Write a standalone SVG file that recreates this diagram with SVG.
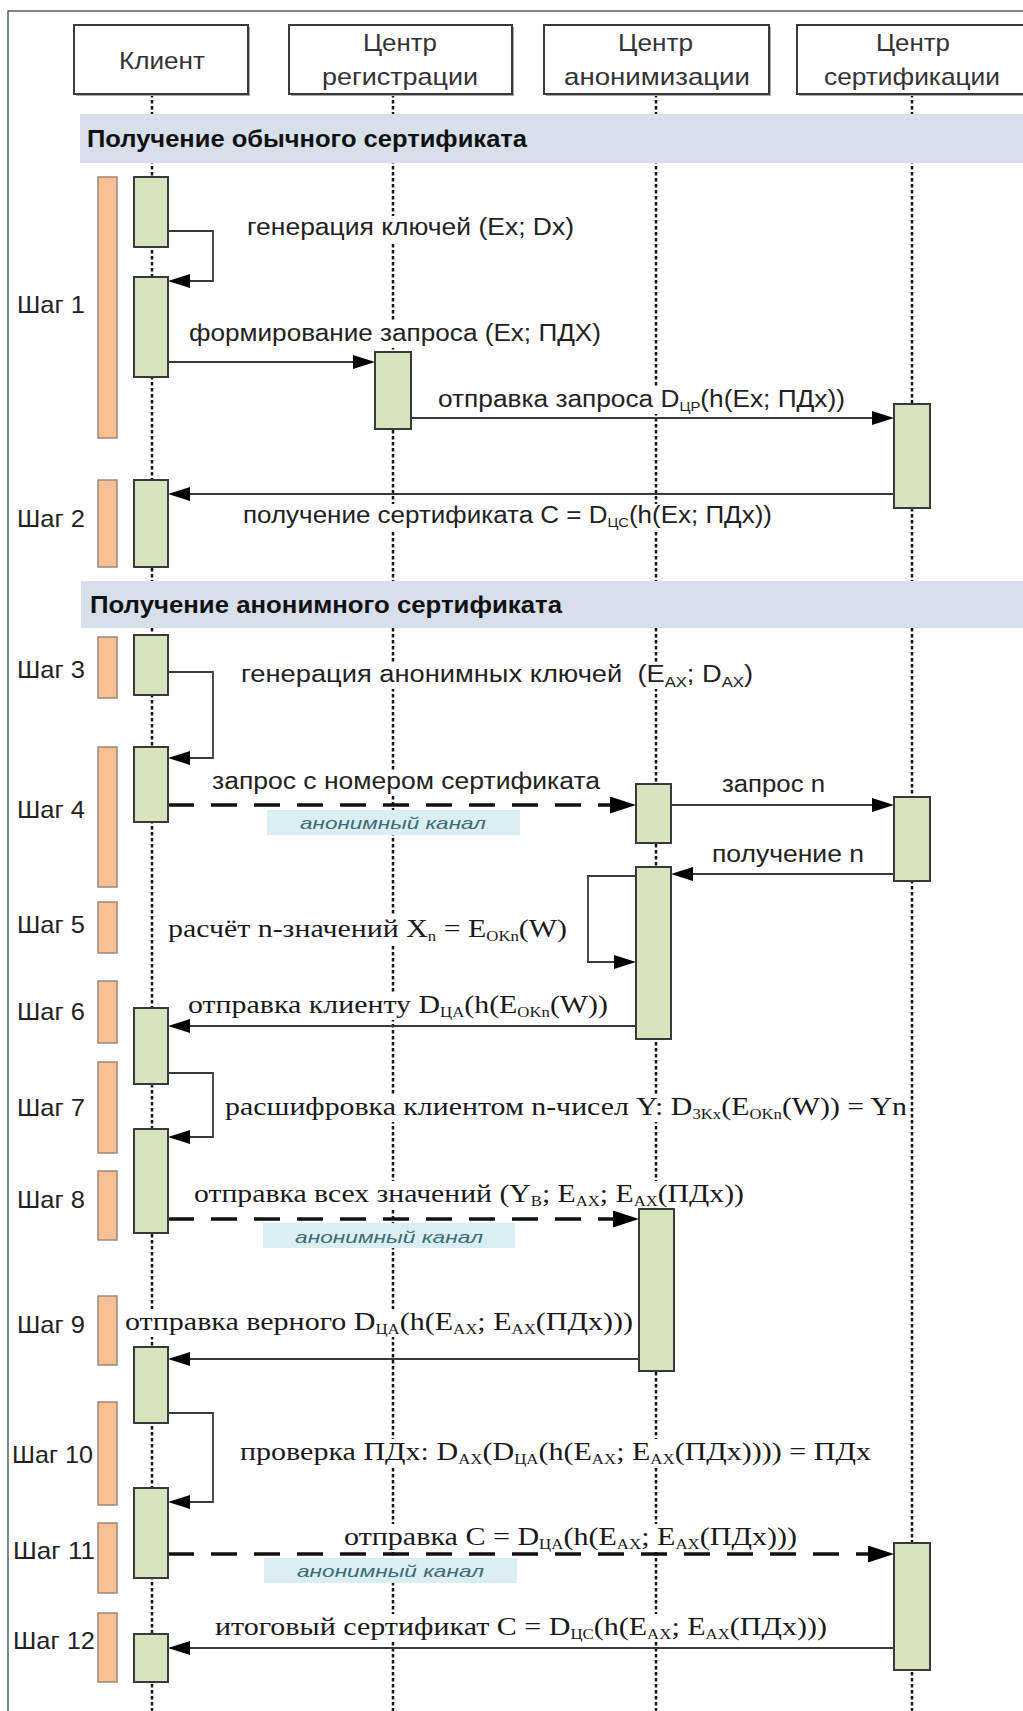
<svg xmlns="http://www.w3.org/2000/svg" width="1023" height="1711" viewBox="0 0 1023 1711">
<style>
.hdr{font-family:"Liberation Sans",Arial,sans-serif;font-size:24px;fill:#333}
.bt{font-family:"Liberation Sans",Arial,sans-serif;font-size:23px;font-weight:bold;fill:#111}
.lbl{font-family:"Liberation Sans",Arial,sans-serif;font-size:23px;fill:#222}
.ser{font-family:"Liberation Serif","Times New Roman",serif;font-size:25px;fill:#1a1a1a}
.step{font-family:"Liberation Sans",Arial,sans-serif;font-size:24px;fill:#222}
.anon{font-family:"Liberation Sans",Arial,sans-serif;font-size:17px;font-style:italic;fill:#3e6b75}
.sb{font-size:14px}
.sbs{font-size:13px}
.box{fill:#fff;stroke:#3a3a3a;stroke-width:2}
.shd{fill:#a8a8a8}
.life{stroke:#151515;stroke-width:2.5;stroke-dasharray:3.5 2.5;fill:none}
.band{fill:#d6dfea}
.act{fill:#d7e4bd;stroke:#3a3a3a;stroke-width:2}
.stp{fill:#f7bf94;stroke:#9a8878;stroke-width:1.5}
.msg{stroke:#3a3a3a;stroke-width:2.2;fill:none;marker-end:url(#ah)}
.dsh{stroke:#111;stroke-width:3.5;stroke-dasharray:26 17;fill:none;marker-end:url(#ahd)}
.self{stroke:#3a3a3a;stroke-width:1.8;fill:none;marker-end:url(#ah)}
.tbg{fill:#fff}
.anbox{fill:#daeef3}
</style>
<defs>
<marker id="ah" viewBox="0 0 22 14" refX="8" refY="7" markerWidth="22" markerHeight="14" markerUnits="userSpaceOnUse" orient="auto"><path d="M0,0 L22,7 L0,14 z" fill="#000"/></marker>
<marker id="ahd" viewBox="0 0 26 17" refX="10" refY="8.5" markerWidth="26" markerHeight="17" markerUnits="userSpaceOnUse" orient="auto"><path d="M0,0 L26,8.5 L0,17 z" fill="#000"/></marker>
</defs>
<rect x="0" y="0" width="1023" height="1711" fill="#fff"/>
<g id="frame" fill="none" stroke="#51655a" stroke-width="1.5">
<path d="M8,1711 V11 H1023"/>
</g>
<g id="lifelines">
<line class="life" x1="152" y1="94" x2="152" y2="1711"/>
<line class="life" x1="393" y1="94" x2="393" y2="1711"/>
<line class="life" x1="656" y1="94" x2="656" y2="1711"/>
<line class="life" x1="912" y1="94" x2="912" y2="1711"/>
</g>
<g id="band1">
<rect class="band" x="80" y="114" width="943" height="49"/>
<text class="bt" x="87" y="147" textLength="440" lengthAdjust="spacingAndGlyphs">Получение обычного сертификата</text>
</g>
<g id="band2">
<rect class="band" x="81" y="581" width="942" height="47"/>
<text class="bt" x="90" y="613" textLength="472" lengthAdjust="spacingAndGlyphs">Получение анонимного сертификата</text>
</g>
<g id="client">
<rect class="shd" x="76" y="27" width="174" height="69"/>
<rect class="box" x="74" y="25" width="174" height="69"/>
<text class="hdr" x="119" y="69" textLength="86" lengthAdjust="spacingAndGlyphs">Клиент</text>
</g>
<g id="registration-center">
<rect class="shd" x="291" y="27" width="223" height="69"/>
<rect class="box" x="289" y="25" width="223" height="69"/>
<text class="hdr" x="363" y="51" textLength="74" lengthAdjust="spacingAndGlyphs">Центр</text>
<text class="hdr" x="322" y="85" textLength="156" lengthAdjust="spacingAndGlyphs">регистрации</text>
</g>
<g id="anonymization-center">
<rect class="shd" x="546" y="27" width="225" height="69"/>
<rect class="box" x="544" y="25" width="225" height="69"/>
<text class="hdr" x="618" y="51" textLength="75" lengthAdjust="spacingAndGlyphs">Центр</text>
<text class="hdr" x="564" y="85" textLength="186" lengthAdjust="spacingAndGlyphs">анонимизации</text>
</g>
<g id="certification-center">
<rect class="shd" x="799" y="27" width="233" height="69"/>
<rect class="box" x="797" y="25" width="233" height="69"/>
<text class="hdr" x="876" y="51" textLength="74" lengthAdjust="spacingAndGlyphs">Центр</text>
<text class="hdr" x="824" y="85" textLength="176" lengthAdjust="spacingAndGlyphs">сертификации</text>
</g>
<g id="steps">
<rect class="stp" x="98" y="177" width="19" height="261"/>
<rect class="stp" x="98" y="480" width="19" height="87"/>
<rect class="stp" x="98" y="637" width="19" height="61"/>
<rect class="stp" x="98" y="747" width="19" height="140"/>
<rect class="stp" x="98" y="902" width="19" height="51"/>
<rect class="stp" x="98" y="981" width="19" height="62"/>
<rect class="stp" x="98" y="1062" width="19" height="91"/>
<rect class="stp" x="98" y="1171" width="19" height="69"/>
<rect class="stp" x="98" y="1296" width="19" height="69"/>
<rect class="stp" x="98" y="1402" width="19" height="103"/>
<rect class="stp" x="98" y="1523" width="19" height="70"/>
<rect class="stp" x="98" y="1613" width="19" height="69"/>
<text class="step" x="17" y="313" textLength="68" lengthAdjust="spacingAndGlyphs">Шаг 1</text>
<text class="step" x="17" y="527" textLength="68" lengthAdjust="spacingAndGlyphs">Шаг 2</text>
<text class="step" x="17" y="678" textLength="68" lengthAdjust="spacingAndGlyphs">Шаг 3</text>
<text class="step" x="17" y="818" textLength="68" lengthAdjust="spacingAndGlyphs">Шаг 4</text>
<text class="step" x="17" y="933" textLength="68" lengthAdjust="spacingAndGlyphs">Шаг 5</text>
<text class="step" x="17" y="1020" textLength="68" lengthAdjust="spacingAndGlyphs">Шаг 6</text>
<text class="step" x="17" y="1116" textLength="68" lengthAdjust="spacingAndGlyphs">Шаг 7</text>
<text class="step" x="17" y="1208" textLength="68" lengthAdjust="spacingAndGlyphs">Шаг 8</text>
<text class="step" x="17" y="1333" textLength="68" lengthAdjust="spacingAndGlyphs">Шаг 9</text>
<text class="step" x="12" y="1463" textLength="81" lengthAdjust="spacingAndGlyphs">Шаг 10</text>
<text class="step" x="13" y="1559" textLength="82" lengthAdjust="spacingAndGlyphs">Шаг 11</text>
<text class="step" x="13" y="1649" textLength="82" lengthAdjust="spacingAndGlyphs">Шаг 12</text>
</g>
<g id="label-backgrounds">
<rect class="tbg" x="244" y="216" width="333" height="26"/>
<rect class="tbg" x="186" y="322" width="418" height="26"/>
<rect class="tbg" x="435" y="388" width="413" height="26"/>
<rect class="tbg" x="240" y="504" width="535" height="26"/>
<rect class="tbg" x="238" y="663" width="518" height="26"/>
<rect class="tbg" x="209" y="770" width="394" height="26"/>
<rect class="tbg" x="719" y="773" width="109" height="24"/>
<rect class="tbg" x="709" y="843" width="158" height="24"/>
<rect class="tbg" x="165" y="916" width="405" height="28"/>
<rect class="tbg" x="185" y="992" width="426" height="28"/>
<rect class="tbg" x="222" y="1094" width="688" height="28"/>
<rect class="tbg" x="191" y="1181" width="556" height="28"/>
<rect class="tbg" x="122" y="1309" width="514" height="28"/>
<rect class="tbg" x="237" y="1439" width="637" height="28"/>
<rect class="tbg" x="341" y="1524" width="459" height="26"/>
<rect class="tbg" x="212" y="1614" width="618" height="28"/>
</g>
<g id="connectors">
<path class="self" d="M168,231 H213 V281 H182"/>
<line class="msg" x1="168" y1="362" x2="361" y2="362"/>
<line class="msg" x1="411" y1="418" x2="880" y2="418"/>
<line class="msg" x1="894" y1="494" x2="182" y2="494"/>
<path class="self" d="M168,672 H213 V758 H182"/>
<line class="dsh" x1="168" y1="805" x2="620" y2="805"/>
<line class="msg" x1="671" y1="805" x2="880" y2="805"/>
<line class="msg" x1="894" y1="874" x2="685" y2="874"/>
<path class="self" d="M636,876 H588 V962 H622"/>
<line class="msg" x1="636" y1="1026" x2="182" y2="1026"/>
<path class="self" d="M168,1073 H213 V1137 H182"/>
<line class="dsh" x1="168" y1="1219" x2="623" y2="1219"/>
<line class="msg" x1="639" y1="1359" x2="182" y2="1359"/>
<path class="self" d="M168,1413 H213 V1502 H182"/>
<line class="dsh" x1="168" y1="1554" x2="878" y2="1554"/>
<line class="msg" x1="894" y1="1648" x2="182" y2="1648"/>
</g>
<g id="activations">
<rect class="act" x="134" y="177" width="34" height="70"/>
<rect class="act" x="134" y="277" width="34" height="100"/>
<rect class="act" x="134" y="480" width="34" height="87"/>
<rect class="act" x="134" y="635" width="34" height="60"/>
<rect class="act" x="134" y="747" width="34" height="75"/>
<rect class="act" x="134" y="1008" width="34" height="76"/>
<rect class="act" x="134" y="1129" width="34" height="104"/>
<rect class="act" x="134" y="1347" width="34" height="76"/>
<rect class="act" x="134" y="1488" width="34" height="90"/>
<rect class="act" x="134" y="1634" width="34" height="48"/>
<rect class="act" x="375" y="352" width="36" height="77"/>
<rect class="act" x="636" y="784" width="35" height="59"/>
<rect class="act" x="636" y="867" width="35" height="172"/>
<rect class="act" x="639" y="1209" width="35" height="162"/>
<rect class="act" x="894" y="404" width="36" height="104"/>
<rect class="act" x="894" y="797" width="36" height="84"/>
<rect class="act" x="894" y="1543" width="36" height="127"/>
</g>
<g id="anon-channels">
<rect class="anbox" x="267" y="810" width="253" height="25"/>
<text class="anon" x="300" y="829" textLength="186" lengthAdjust="spacingAndGlyphs">анонимный канал</text>
<rect class="anbox" x="263" y="1223" width="252" height="25"/>
<text class="anon" x="295" y="1243" textLength="188" lengthAdjust="spacingAndGlyphs">анонимный канал</text>
<rect class="anbox" x="264" y="1558" width="253" height="25"/>
<text class="anon" x="297" y="1577" textLength="187" lengthAdjust="spacingAndGlyphs">анонимный канал</text>
</g>
<g id="labels">
<text class="lbl" x="247" y="235" textLength="327" lengthAdjust="spacingAndGlyphs">генерация ключей (Ex; Dx)</text>
<text class="lbl" x="189" y="341" textLength="412" lengthAdjust="spacingAndGlyphs">формирование запроса (Ex; ПДХ)</text>
<text class="lbl" x="438" y="407" textLength="407" lengthAdjust="spacingAndGlyphs">отправка запроса D<tspan class="sbs" dy="4">ЦР</tspan><tspan dy="-4">(h(Ex; ПДх))</tspan></text>
<text class="lbl" x="243" y="523" textLength="529" lengthAdjust="spacingAndGlyphs">получение сертификата C = D<tspan class="sbs" dy="4">ЦС</tspan><tspan dy="-4">(h(Ex; ПДх))</tspan></text>
<text class="lbl" x="241" y="682" textLength="512" lengthAdjust="spacingAndGlyphs">генерация анонимных ключей&#160; (E<tspan class="sb" dy="5">AX</tspan><tspan dy="-5">; D</tspan><tspan class="sb" dy="5">AX</tspan><tspan dy="-5">)</tspan></text>
<text class="lbl" x="212" y="789" textLength="388" lengthAdjust="spacingAndGlyphs">запрос с номером сертификата</text>
<text class="lbl" x="722" y="792" textLength="103" lengthAdjust="spacingAndGlyphs">запрос n</text>
<text class="lbl" x="712" y="862" textLength="152" lengthAdjust="spacingAndGlyphs">получение n</text>
<text class="ser" x="168" y="937" textLength="399" lengthAdjust="spacingAndGlyphs">расчёт n-значений X<tspan class="sb" dy="4">n</tspan><tspan dy="-4"> = E</tspan><tspan class="sb" dy="4">OKn</tspan><tspan dy="-4">(W)</tspan></text>
<text class="ser" x="188" y="1013" textLength="420" lengthAdjust="spacingAndGlyphs">отправка клиенту D<tspan class="sb" dy="4">ЦА</tspan><tspan dy="-4">(h(E</tspan><tspan class="sb" dy="4">OKn</tspan><tspan dy="-4">(W))</tspan></text>
<text class="ser" x="225" y="1115" textLength="682" lengthAdjust="spacingAndGlyphs">расшифровка клиентом n-чисел Y: D<tspan class="sb" dy="4">3Kx</tspan><tspan dy="-4">(E</tspan><tspan class="sb" dy="4">OKn</tspan><tspan dy="-4">(W)) = Yn</tspan></text>
<text class="ser" x="194" y="1202" textLength="550" lengthAdjust="spacingAndGlyphs">отправка всех значений (Y<tspan class="sb" dy="4">B</tspan><tspan dy="-4">; E</tspan><tspan class="sb" dy="4">AX</tspan><tspan dy="-4">; E</tspan><tspan class="sb" dy="4">AX</tspan><tspan dy="-4">(ПДх))</tspan></text>
<text class="ser" x="125" y="1330" textLength="508" lengthAdjust="spacingAndGlyphs">отправка верного D<tspan class="sb" dy="4">ЦА</tspan><tspan dy="-4">(h(E</tspan><tspan class="sb" dy="4">AX</tspan><tspan dy="-4">; E</tspan><tspan class="sb" dy="4">AX</tspan><tspan dy="-4">(ПДх)))</tspan></text>
<text class="ser" x="240" y="1460" textLength="631" lengthAdjust="spacingAndGlyphs">проверка ПДх: D<tspan class="sb" dy="4">AX</tspan><tspan dy="-4">(D</tspan><tspan class="sb" dy="4">ЦА</tspan><tspan dy="-4">(h(E</tspan><tspan class="sb" dy="4">AX</tspan><tspan dy="-4">; E</tspan><tspan class="sb" dy="4">AX</tspan><tspan dy="-4">(ПДх)))) = ПДх</tspan></text>
<text class="ser" x="344" y="1545" textLength="453" lengthAdjust="spacingAndGlyphs">отправка C = D<tspan class="sb" dy="4">ЦА</tspan><tspan dy="-4">(h(E</tspan><tspan class="sb" dy="4">AX</tspan><tspan dy="-4">; E</tspan><tspan class="sb" dy="4">AX</tspan><tspan dy="-4">(ПДх)))</tspan></text>
<text class="ser" x="215" y="1635" textLength="612" lengthAdjust="spacingAndGlyphs">итоговый сертификат C = D<tspan class="sb" dy="4">ЦС</tspan><tspan dy="-4">(h(E</tspan><tspan class="sb" dy="4">AX</tspan><tspan dy="-4">; E</tspan><tspan class="sb" dy="4">AX</tspan><tspan dy="-4">(ПДх)))</tspan></text>
</g>
</svg>
